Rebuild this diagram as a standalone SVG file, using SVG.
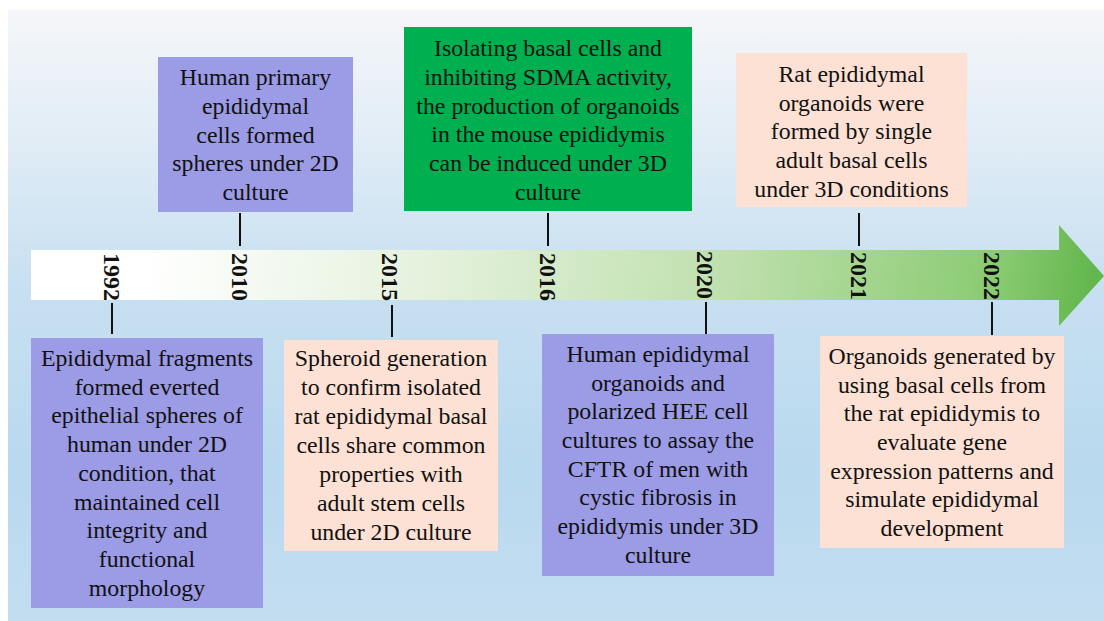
<svg xmlns="http://www.w3.org/2000/svg" width="1104" height="621" viewBox="0 0 1104 621">
  <defs>
    <linearGradient id="bg" x1="0" y1="10" x2="0" y2="621" gradientUnits="userSpaceOnUse">
      <stop offset="0" stop-color="#f5f6f9"/>
      <stop offset="0.2" stop-color="#e2edf6"/>
      <stop offset="0.45" stop-color="#c8e0f1"/>
      <stop offset="0.75" stop-color="#b9d9ee"/>
      <stop offset="1" stop-color="#c3ddf0"/>
    </linearGradient>
    <linearGradient id="arrowGrad" x1="150" y1="215" x2="1104" y2="340" gradientUnits="userSpaceOnUse">
      <stop offset="0" stop-color="#ffffff"/>
      <stop offset="0.3" stop-color="#e4f1dc"/>
      <stop offset="0.6" stop-color="#bfe0ae"/>
      <stop offset="0.88" stop-color="#8acb72"/>
      <stop offset="1" stop-color="#5cb347"/>
    </linearGradient>
  </defs>
  <style>
    .purple { fill: #9c9be6; }
    .peach { fill: #fde1d4; }
    .green { fill: #00b050; }
    .tick { stroke: #111; stroke-width: 2; }
  </style>

  <rect x="0" y="0" width="1104" height="621" fill="#ffffff"/>
  <rect x="8" y="10" width="1096" height="611" fill="url(#bg)"/>

  <g id="timeline-arrow">
    <path d="M31,250 H1059 V225 L1104,276 L1059,326 V300 H31 Z" fill="url(#arrowGrad)"/>
  </g>

  <g id="connectors">
    <line class="tick" x1="112" y1="303" x2="112" y2="334"/>
    <line class="tick" x1="240" y1="213" x2="240" y2="246"/>
    <line class="tick" x1="392" y1="305" x2="392" y2="337"/>
    <line class="tick" x1="548" y1="213" x2="548" y2="246"/>
    <line class="tick" x1="706" y1="302" x2="706" y2="334"/>
    <line class="tick" x1="859" y1="213" x2="859" y2="246"/>
    <line class="tick" x1="992" y1="302" x2="992" y2="335"/>
  </g>

  <g id="years" font-family="'Liberation Serif', 'Times New Roman', serif" font-size="24" font-weight="bold" fill="#111" text-anchor="middle">
    <text transform="translate(112,277) rotate(90)" y="8">1992</text>
    <text transform="translate(240,277) rotate(90)" y="8">2010</text>
    <text transform="translate(390,277) rotate(90)" y="8">2015</text>
    <text transform="translate(548,277) rotate(90)" y="8">2016</text>
    <text transform="translate(705,275) rotate(90)" y="8">2020</text>
    <text transform="translate(859,276) rotate(90)" y="8">2021</text>
    <text transform="translate(992,276) rotate(90)" y="8">2022</text>
  </g>

  <g id="node-1992" font-family="'Liberation Serif', 'Times New Roman', serif" font-size="23.8" fill="#111" text-anchor="middle">
    <rect class="purple" x="31" y="338" width="232" height="270"/>
    <text x="147" y="366">Epididymal fragments</text>
    <text x="147" y="395">formed everted</text>
    <text x="147" y="423">epithelial spheres of</text>
    <text x="147" y="452">human under 2D</text>
    <text x="147" y="481">condition, that</text>
    <text x="147" y="510">maintained cell</text>
    <text x="147" y="538">integrity and</text>
    <text x="147" y="567">functional</text>
    <text x="147" y="596">morphology</text>
  </g>

  <g id="node-2010" font-family="'Liberation Serif', 'Times New Roman', serif" font-size="23.8" fill="#111" text-anchor="middle">
    <rect class="purple" x="158" y="57" width="195" height="155"/>
    <text x="255.5" y="85">Human primary</text>
    <text x="255.5" y="114">epididymal</text>
    <text x="255.5" y="143">cells formed</text>
    <text x="255.5" y="171">spheres under 2D</text>
    <text x="255.5" y="200">culture</text>
  </g>

  <g id="node-2015" font-family="'Liberation Serif', 'Times New Roman', serif" font-size="23.8" fill="#111" text-anchor="middle">
    <rect class="peach" x="284" y="340" width="214" height="211"/>
    <text x="391" y="366">Spheroid generation</text>
    <text x="391" y="395">to confirm isolated</text>
    <text x="391" y="424">rat epididymal basal</text>
    <text x="391" y="453">cells share common</text>
    <text x="391" y="482">properties with</text>
    <text x="391" y="511">adult stem cells</text>
    <text x="391" y="540">under 2D culture</text>
  </g>

  <g id="node-2016" font-family="'Liberation Serif', 'Times New Roman', serif" font-size="23.8" fill="#111" text-anchor="middle">
    <rect class="green" x="404" y="27" width="288" height="184"/>
    <text x="548" y="56">Isolating basal cells and</text>
    <text x="548" y="85">inhibiting SDMA activity,</text>
    <text x="548" y="114">the production of organoids</text>
    <text x="548" y="142">in the mouse epididymis</text>
    <text x="548" y="171">can be induced under 3D</text>
    <text x="548" y="200">culture</text>
  </g>

  <g id="node-2020" font-family="'Liberation Serif', 'Times New Roman', serif" font-size="23.8" fill="#111" text-anchor="middle">
    <rect class="purple" x="542" y="334" width="232" height="242"/>
    <text x="658" y="362">Human epididymal</text>
    <text x="658" y="391">organoids and</text>
    <text x="658" y="419">polarized HEE cell</text>
    <text x="658" y="448">cultures to assay the</text>
    <text x="658" y="477">CFTR of men with</text>
    <text x="658" y="505">cystic fibrosis in</text>
    <text x="658" y="534">epididymis under 3D</text>
    <text x="658" y="563">culture</text>
  </g>

  <g id="node-2021" font-family="'Liberation Serif', 'Times New Roman', serif" font-size="23.8" fill="#111" text-anchor="middle">
    <rect class="peach" x="736" y="53" width="231" height="154"/>
    <text x="851.5" y="82">Rat epididymal</text>
    <text x="851.5" y="111">organoids were</text>
    <text x="851.5" y="139">formed by single</text>
    <text x="851.5" y="168">adult basal cells</text>
    <text x="851.5" y="197">under 3D conditions</text>
  </g>

  <g id="node-2022" font-family="'Liberation Serif', 'Times New Roman', serif" font-size="23.8" fill="#111" text-anchor="middle">
    <rect class="peach" x="820" y="336" width="244" height="212"/>
    <text x="942" y="364">Organoids generated by</text>
    <text x="942" y="393">using basal cells from</text>
    <text x="942" y="421">the rat epididymis to</text>
    <text x="942" y="450">evaluate gene</text>
    <text x="942" y="479">expression patterns and</text>
    <text x="942" y="507">simulate epididymal</text>
    <text x="942" y="536">development</text>
  </g>
</svg>
